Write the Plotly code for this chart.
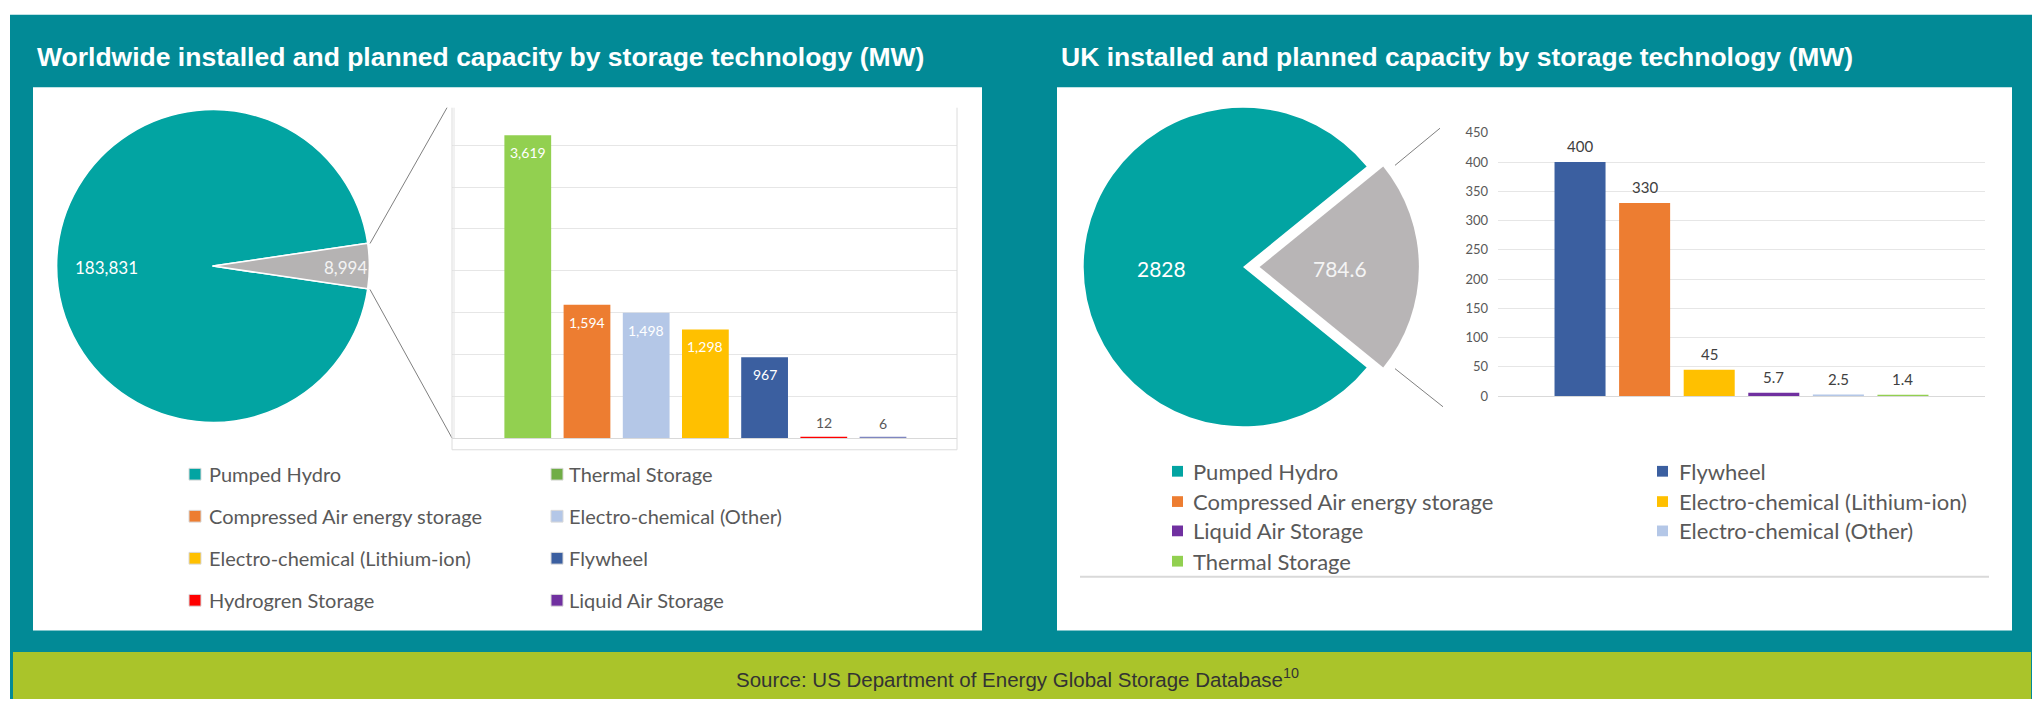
import plotly.graph_objects as go

W, H = 2035, 707

# ---------------- data ----------------
world_title = "Worldwide installed and planned capacity by storage technology (MW)"
uk_title = "UK installed and planned capacity by storage technology (MW)"
source_text = "Source: US Department of Energy Global Storage Database<sup>10</sup>"

world_pie_labels = ["Pumped Hydro", "Other technologies"]
world_pie_values = [183831, 8994]
world_bar_categories = ["Thermal Storage", "Compressed Air energy storage", "Electro-chemical (Other)",
                        "Electro-chemical (Lithium-ion)", "Flywheel", "Hydrogren Storage", "Liquid Air Storage"]
world_bar_values = [3619, 1594, 1498, 1298, 967, 12, 6]

uk_pie_labels = ["Pumped Hydro", "Other technologies"]
uk_pie_values = [2828, 784.6]
uk_bar_categories = ["Flywheel", "Compressed Air energy storage", "Electro-chemical (Lithium-ion)",
                     "Liquid Air Storage", "Electro-chemical (Other)", "Thermal Storage"]
uk_bar_values = [400, 330, 45, 5.7, 2.5, 1.4]
uk_tick_values = [0, 50, 100, 150, 200, 250, 300, 350, 400, 450]

# ---------------- styles ----------------
TEAL_BG = "#028A96"
PIE_TEAL = "#02A4A2"
PIE_GREY = "#B5B3B3"
GREEN_BAND = "#AAC42A"
LABEL_GREY = "#595959"
FONT = "Lato"

bar_colors = {
    "Thermal Storage": "#92D050",
    "Compressed Air energy storage": "#ED7D31",
    "Electro-chemical (Other)": "#B4C7E7",
    "Electro-chemical (Lithium-ion)": "#FFC000",
    "Flywheel": "#3B5FA0",
    "Hydrogren Storage": "#FF0000",
    "Liquid Air Storage": "#7030A0",
}
world_bar_colors = dict(bar_colors)
world_bar_colors["Liquid Air Storage"] = "#7F86C0"
world_legend_colors = dict(bar_colors)
world_legend_colors["Thermal Storage"] = "#70AD47"
world_legend_colors["Pumped Hydro"] = PIE_TEAL
uk_legend_colors = dict(bar_colors)
uk_legend_colors["Pumped Hydro"] = PIE_TEAL


def px(x):
    return x / W


def py(y):
    return 1 - y / H


fig = go.Figure()
shapes = []
annotations = []


def rect(x0, y0, x1, y1, color, line_color=None, layer="below"):
    shapes.append(dict(type="rect", xref="paper", yref="paper",
                       x0=px(x0), x1=px(x1), y0=py(y1), y1=py(y0),
                       fillcolor=color,
                       line=dict(width=1 if line_color else 0, color=line_color or color),
                       layer=layer))


def line(x0, y0, x1, y1, color, width=1, layer="above"):
    shapes.append(dict(type="line", xref="paper", yref="paper",
                       x0=px(x0), x1=px(x1), y0=py(y0), y1=py(y1),
                       line=dict(color=color, width=width), layer=layer))


def text(x, y, s, size, color, family=FONT, xanchor="left", bold=False):
    if bold:
        s = "<b>" + s + "</b>"
    annotations.append(dict(xref="paper", yref="paper", x=px(x), y=py(y), text=s,
                            showarrow=False, xanchor=xanchor, yanchor="middle",
                            font=dict(size=size, color=color, family=family)))


# backgrounds
rect(10, 7, 2032, 707, TEAL_BG)
rect(33, 81, 982, 637, "white")
rect(1057, 81, 2012, 637, "white")
rect(13, 659, 2031, 707, GREEN_BAND)

# titles
text(35, 50, world_title, 26.5, "white", family="Liberation Sans, Arial", bold=True)
text(1059, 50, uk_title, 26.5, "white", family="Liberation Sans, Arial", bold=True)
text(1017, 686, source_text, 20.5, "#333333", family="Liberation Sans, Arial", xanchor="center")

# ---------------- world pie ----------------
g = world_pie_values[1] / sum(world_pie_values) * 360
fig.add_trace(go.Pie(
    labels=world_pie_labels, values=world_pie_values, sort=False,
    direction="clockwise", rotation=(90 + g / 2) % 360,
    domain=dict(x=[px(53), px(373)], y=[py(424), py(104)]),
    marker=dict(colors=[PIE_TEAL, PIE_GREY], line=dict(color="white", width=1.5)),
    textinfo="none", hoverinfo="label+value", showlegend=False))
text(106, 265, f"{world_pie_values[0]:,}", 17, "white", xanchor="center")
text(345, 265, f"{world_pie_values[1]:,}", 17, "#F4F4F4", xanchor="center")

# leader lines world
line(370, 241, 447, 102, "#808080", 1)
line(370, 288, 452, 440, "#808080", 1)

# ---------------- world bar ----------------
fig.add_trace(go.Bar(
    x=world_bar_categories, y=world_bar_values, xaxis="x", yaxis="y",
    marker=dict(color=[world_bar_colors[c] for c in world_bar_categories], line=dict(width=0)),
    hoverinfo="x+y", showlegend=False))
for c, v in zip(world_bar_categories, world_bar_values):
    inside = v > 200
    annotations.append(dict(
        xref="x", yref="y", x=c, y=v, text=f"{v:,}", showarrow=False,
        xanchor="center", yanchor="top" if inside else "bottom",
        yshift=-7 if inside else 4,
        font=dict(size=14, family=FONT, color="white" if inside else LABEL_GREY)))

# box around the world bar chart
line(452, 102, 452, 452, "#DCDCDC", 1)
line(454, 102, 454, 440, "#E4E4E4", 1)
line(957, 102, 957, 452, "#DCDCDC", 1)
line(452, 452, 957, 452, "#DCDCDC", 1)

# ---------------- UK pie ----------------
gu = uk_pie_values[1] / sum(uk_pie_values) * 360
pull = 0.104
r_uk = 163
half = r_uk * (1 + pull)
fig.add_trace(go.Pie(
    labels=uk_pie_labels, values=uk_pie_values, sort=False,
    direction="clockwise", rotation=(90 + gu / 2) % 360,
    pull=[0, pull],
    domain=dict(x=[px(1243 - half), px(1243 + half)], y=[py(265 + half), py(265 - half)]),
    marker=dict(colors=[PIE_TEAL, "#B8B5B6"], line=dict(color="white", width=0)),
    textinfo="none", hoverinfo="label+value", showlegend=False))
text(1161, 267, f"{uk_pie_values[0]:g}", 21, "white", xanchor="center")
text(1340, 267, f"{uk_pie_values[1]:g}", 21, "#F4F4F4", xanchor="center")

line(1395, 161, 1440, 123, "#808080", 1)
line(1395, 369, 1443, 408, "#808080", 1)

# ---------------- UK bar ----------------
fig.add_trace(go.Bar(
    x=uk_bar_categories, y=uk_bar_values, xaxis="x2", yaxis="y2",
    marker=dict(color=[bar_colors[c] for c in uk_bar_categories], line=dict(width=0)),
    hoverinfo="x+y", showlegend=False))
for c, v in zip(uk_bar_categories, uk_bar_values):
    annotations.append(dict(
        xref="x2", yref="y2", x=c, y=v, text=f"{v:g}", showarrow=False,
        xanchor="center", yanchor="bottom", yshift=5,
        font=dict(size=15, family=FONT, color="#404040")))

line(1080, 582, 1989, 582, "#D9D9D9", 2)

# ---------------- legends ----------------
def legend(entries, colors, marker_x, text_x, row_ys, size, msize, border):
    for i, name in enumerate(entries):
        col, row = i % 2, i // 2
        mx, tx, y = marker_x[col], text_x[col], row_ys[row]
        rect(mx, y - msize / 2, mx + msize, y + msize / 2, colors[name],
             line_color="#D9D9D9" if border else None, layer="above")
        text(tx, y, name, size, LABEL_GREY)


legend(["Pumped Hydro"] + world_bar_categories, world_legend_colors,
       [189, 551], [207, 567], [477, 520, 563, 606], 20, 12, True)
legend(["Pumped Hydro"] + uk_bar_categories, uk_legend_colors,
       [1172, 1657], [1191, 1677], [474, 505, 535, 566], 22, 11, False)

fig.update_layout(
    width=W, height=H, autosize=False,
    margin=dict(l=0, r=0, t=0, b=0, pad=0),
    paper_bgcolor="white", plot_bgcolor="rgba(0,0,0,0)",
    bargap=0.21, showlegend=False,
    shapes=shapes, annotations=annotations,
    xaxis=dict(domain=[px(452), px(957)], range=[-1.28, 7.25], showticklabels=False,
               showgrid=False, zeroline=False, showline=True, linecolor="#D9D9D9",
               linewidth=1, fixedrange=True, anchor="y"),
    yaxis=dict(domain=[py(440), py(102)], range=[0, 3950], dtick=500, showticklabels=False,
               showgrid=True, gridcolor="#E6E6E6", gridwidth=1, zeroline=False,
               fixedrange=True, anchor="x"),
    xaxis2=dict(domain=[px(1498), px(1985)], range=[-1.27, 6.27], showticklabels=False,
                showgrid=False, zeroline=False, showline=True, linecolor="#D9D9D9",
                linewidth=1, fixedrange=True, anchor="y2"),
    yaxis2=dict(domain=[py(397), py(127.7)], range=[0, 450], tickvals=uk_tick_values,
                showgrid=True, gridcolor="#E6E6E6", gridwidth=1, zeroline=False,
                tickfont=dict(size=13, color=LABEL_GREY, family=FONT),
                ticks="", ticklabelstandoff=9, fixedrange=True, anchor="x2"),
)

fig.write_html("out.html", config={"displayModeBar": False},
               post_script="document.body.style.margin='0';document.body.style.overflow='hidden';")
